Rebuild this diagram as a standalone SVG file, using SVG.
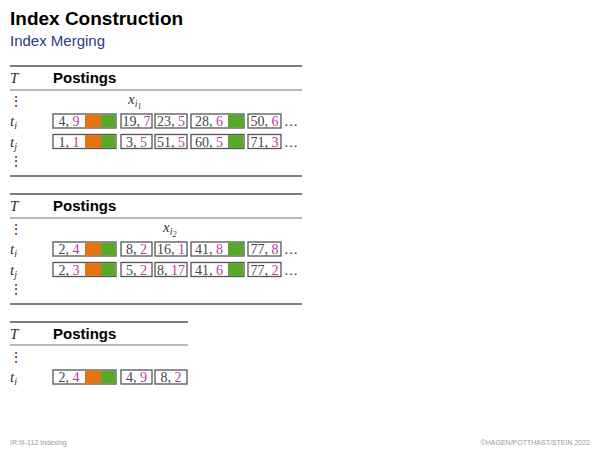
<svg xmlns="http://www.w3.org/2000/svg" width="600" height="450" viewBox="0 0 600 450">
<style>
.title{font-family:"Liberation Sans",Arial,sans-serif;font-weight:bold;font-size:19px;fill:#000}
.sub{font-family:"Liberation Sans",Arial,sans-serif;font-size:15px;fill:#2a3a8a}
.hd{font-family:"Liberation Sans",Arial,sans-serif;font-weight:bold;font-size:15px;fill:#000}
.m{font-family:"Liberation Serif","Times New Roman",serif;font-size:15px;fill:#333}
.mi{font-family:"Liberation Serif","Times New Roman",serif;font-style:italic;font-size:15px;fill:#333}
.s{font-size:10px}
.ss{font-size:8px}
.n{font-family:"Liberation Serif","Times New Roman",serif;font-size:14px;fill:#444;text-anchor:middle}
.p{fill:#b63aa3}
.box{fill:#fff;stroke:#555;stroke-width:1.3}
.inner{fill:none;stroke:#bbb;stroke-width:0.6}
.or{fill:#e8720e}
.gr{fill:#58a82a}
.thick{stroke:#555;stroke-width:1.6}
.thin{stroke:#666;stroke-width:0.9}
.foot{font-family:"Liberation Sans",Arial,sans-serif;font-size:7px;fill:#999}
.dots{font-family:"Liberation Serif",serif;font-size:14px;fill:#333}
</style>
<text class="title" x="10" y="25">Index Construction</text>
<text class="sub" x="10" y="46">Index Merging</text>

<!-- Block 1 -->
<g id="block1">
<line class="thick" x1="10" y1="66" x2="302" y2="66"/>
<text class="mi" x="10" y="83">T</text>
<text class="hd" x="53" y="83">Postings</text>
<line class="thin" x1="10" y1="90" x2="302" y2="90"/>
<text class="dots" x="9" y="106">⋮</text>
<text class="mi" x="128" y="104">x<tspan class="s" dy="3">i</tspan><tspan class="ss" dy="2">1</tspan></text>
<text class="mi" x="10" y="126">t<tspan class="s" dy="3">i</tspan></text>
<text class="mi" x="10" y="147">t<tspan class="s" dy="3">j</tspan></text>
<text class="dots" x="9" y="166">⋮</text>
<line class="thick" x1="10" y1="176" x2="302" y2="176"/>
</g>
<g id="b1-ti-1"><rect class="box" x="53" y="114" width="63" height="14"/><rect class="or" x="85" y="114.6" width="16" height="12.8"/><rect class="gr" x="101" y="114.6" width="14.4" height="12.8"/><text class="n" x="69" y="126">4, <tspan class="p">9</tspan></text></g>
<g id="b1-ti-2"><rect class="box" x="121" y="114" width="31" height="14"/><text class="n" x="136.5" y="126">19, <tspan class="p">7</tspan></text></g>
<g id="b1-ti-3"><rect class="box" x="155" y="114" width="32" height="14"/><text class="n" x="171" y="126">23, <tspan class="p">5</tspan></text></g>
<g id="b1-ti-4"><rect class="box" x="191" y="114" width="53" height="14"/><rect class="gr" x="228" y="114.6" width="15.4" height="12.8"/><text class="n" x="209" y="126">28, <tspan class="p">6</tspan></text></g>
<g id="b1-ti-5"><rect class="box" x="248" y="114" width="33" height="14"/><text class="n" x="264.5" y="126">50, <tspan class="p">6</tspan></text></g>
<text class="dots" x="284" y="126">…</text>
<g id="b1-tj-1"><rect class="box" x="53" y="134.5" width="63" height="14"/><rect class="or" x="85" y="135.1" width="16" height="12.8"/><rect class="gr" x="101" y="135.1" width="14.4" height="12.8"/><text class="n" x="69" y="146.5">1, <tspan class="p">1</tspan></text></g>
<g id="b1-tj-2"><rect class="box" x="121" y="134.5" width="31" height="14"/><text class="n" x="136.5" y="146.5">3, <tspan class="p">5</tspan></text></g>
<g id="b1-tj-3"><rect class="box" x="155" y="134.5" width="32" height="14"/><text class="n" x="171" y="146.5">51, <tspan class="p">5</tspan></text></g>
<g id="b1-tj-4"><rect class="box" x="191" y="134.5" width="53" height="14"/><rect class="gr" x="228" y="135.1" width="15.4" height="12.8"/><text class="n" x="209" y="146.5">60, <tspan class="p">5</tspan></text></g>
<g id="b1-tj-5"><rect class="box" x="248" y="134.5" width="33" height="14"/><text class="n" x="264.5" y="146.5">71, <tspan class="p">3</tspan></text></g>
<text class="dots" x="284" y="146.5">…</text>

<!-- Block 2 -->
<g id="block2">
<line class="thick" x1="10" y1="194" x2="302" y2="194"/>
<text class="mi" x="10" y="211">T</text>
<text class="hd" x="53" y="211">Postings</text>
<line class="thin" x1="10" y1="218" x2="302" y2="218"/>
<text class="dots" x="9" y="234">⋮</text>
<text class="mi" x="163" y="232">x<tspan class="s" dy="3">i</tspan><tspan class="ss" dy="2">2</tspan></text>
<text class="mi" x="10" y="254">t<tspan class="s" dy="3">i</tspan></text>
<text class="mi" x="10" y="275">t<tspan class="s" dy="3">j</tspan></text>
<text class="dots" x="9" y="294">⋮</text>
<line class="thick" x1="10" y1="304" x2="302" y2="304"/>
</g>
<g id="b2-ti-1"><rect class="box" x="53" y="242" width="63" height="14"/><rect class="or" x="85" y="242.6" width="16" height="12.8"/><rect class="gr" x="101" y="242.6" width="14.4" height="12.8"/><text class="n" x="69" y="254">2, <tspan class="p">4</tspan></text></g>
<g id="b2-ti-2"><rect class="box" x="121" y="242" width="31" height="14"/><text class="n" x="136.5" y="254">8, <tspan class="p">2</tspan></text></g>
<g id="b2-ti-3"><rect class="box" x="155" y="242" width="32" height="14"/><text class="n" x="171" y="254">16, <tspan class="p">1</tspan></text></g>
<g id="b2-ti-4"><rect class="box" x="191" y="242" width="53" height="14"/><rect class="gr" x="228" y="242.6" width="15.4" height="12.8"/><text class="n" x="209" y="254">41, <tspan class="p">8</tspan></text></g>
<g id="b2-ti-5"><rect class="box" x="248" y="242" width="33" height="14"/><text class="n" x="264.5" y="254">77, <tspan class="p">8</tspan></text></g>
<text class="dots" x="284" y="254">…</text>
<g id="b2-tj-1"><rect class="box" x="53" y="262.5" width="63" height="14"/><rect class="or" x="85" y="263.1" width="16" height="12.8"/><rect class="gr" x="101" y="263.1" width="14.4" height="12.8"/><text class="n" x="69" y="274.5">2, <tspan class="p">3</tspan></text></g>
<g id="b2-tj-2"><rect class="box" x="121" y="262.5" width="31" height="14"/><text class="n" x="136.5" y="274.5">5, <tspan class="p">2</tspan></text></g>
<g id="b2-tj-3"><rect class="box" x="155" y="262.5" width="32" height="14"/><text class="n" x="171" y="274.5">8, <tspan class="p">17</tspan></text></g>
<g id="b2-tj-4"><rect class="box" x="191" y="262.5" width="53" height="14"/><rect class="gr" x="228" y="263.1" width="15.4" height="12.8"/><text class="n" x="209" y="274.5">41, <tspan class="p">6</tspan></text></g>
<g id="b2-tj-5"><rect class="box" x="248" y="262.5" width="33" height="14"/><text class="n" x="264.5" y="274.5">77, <tspan class="p">2</tspan></text></g>
<text class="dots" x="284" y="274.5">…</text>

<!-- Block 3 -->
<g id="block3">
<line class="thick" x1="10" y1="322" x2="188" y2="322"/>
<text class="mi" x="10" y="339">T</text>
<text class="hd" x="53" y="339">Postings</text>
<line class="thin" x1="10" y1="345" x2="188" y2="345"/>
<text class="dots" x="9" y="362">⋮</text>
<text class="mi" x="10" y="382">t<tspan class="s" dy="3">i</tspan></text>
</g>
<g id="b3-ti-1"><rect class="box" x="53" y="370" width="63" height="14"/><rect class="or" x="85" y="370.6" width="16" height="12.8"/><rect class="gr" x="101" y="370.6" width="14.4" height="12.8"/><text class="n" x="69" y="382">2, <tspan class="p">4</tspan></text></g>
<g id="b3-ti-2"><rect class="box" x="121" y="370" width="31" height="14"/><text class="n" x="136.5" y="382">4, <tspan class="p">9</tspan></text></g>
<g id="b3-ti-3"><rect class="box" x="155" y="370" width="32" height="14"/><text class="n" x="171" y="382">8, <tspan class="p">2</tspan></text></g>

<text class="foot" x="10" y="445">IR:III-112   Indexing</text>
<text class="foot" x="590" y="445" text-anchor="end">©HAGEN/POTTHAST/STEIN 2022</text>
</svg>
